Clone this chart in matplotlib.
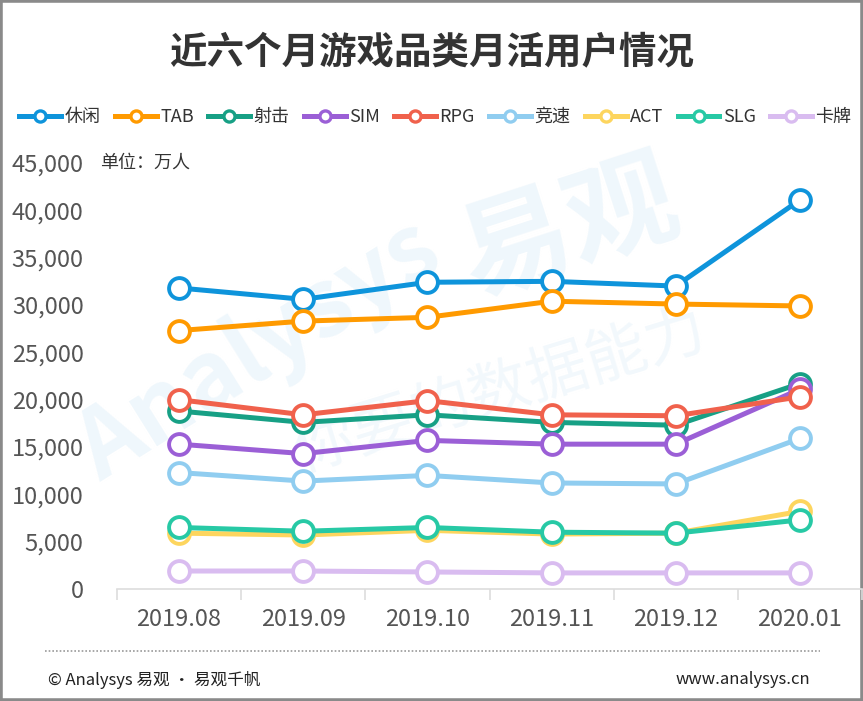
import matplotlib
matplotlib.use("Agg")
import matplotlib.pyplot as plt
from matplotlib.lines import Line2D
from matplotlib.patches import Rectangle
from matplotlib.ticker import FuncFormatter, FixedLocator

plt.rcParams["font.family"] = ["Noto Sans CJK SC", "DejaVu Sans"]

# ---------------------------------------------------------------------------
# Data (万人)
# ---------------------------------------------------------------------------
months = ["2019.08", "2019.09", "2019.10", "2019.11", "2019.12", "2020.01"]

casual  = [31800, 30600, 32400, 32500, 32000, 41100]   # 休闲
tab     = [27300, 28300, 28700, 30400, 30100, 29900]   # TAB
shooter = [18800, 17600, 18400, 17600, 17300, 21700]   # 射击
sim     = [15300, 14300, 15700, 15300, 15300, 21100]   # SIM
rpg     = [20000, 18400, 19900, 18400, 18300, 20300]   # RPG
racing  = [12300, 11400, 12000, 11200, 11100, 15900]   # 竞速
act     = [5900, 5700, 6200, 5800, 5900, 8200]         # ACT
slg     = [6500, 6100, 6500, 6000, 5900, 7300]         # SLG
card    = [1900, 1900, 1800, 1700, 1700, 1700]         # 卡牌

names  = ["休闲", "TAB", "射击", "SIM", "RPG", "竞速", "ACT", "SLG", "卡牌"]
series = [casual, tab, shooter, sim, rpg, racing, act, slg, card]
colors = ["#0e94db", "#ff9a00", "#17a085", "#9b5fd6", "#f0614c",
          "#90cdf0", "#fdd55e", "#27c9a5", "#d9bcf0"]

# ---------------------------------------------------------------------------
fig = plt.figure(figsize=(8.63, 7.01), dpi=100)
ax = fig.add_axes([117 / 863, 1 - 589 / 701, 745 / 863, (589 - 163) / 701])
ax.set_zorder(2)
ax.patch.set_alpha(0)

# faint watermark, kept below the plot
wm = "#eff7fc"
fig.text(0.66, 0.67, "易观", fontsize=80, fontweight="bold", color=wm,
         rotation=18, ha="center", va="center", zorder=0)
fig.text(0.30, 0.50, "Analysys", fontsize=68, fontweight="bold", color=wm,
         rotation=32, ha="center", va="center", zorder=0)
fig.text(0.58, 0.44, "你要的数据能力", fontsize=44, color="#f2f8fc",
         rotation=17, ha="center", va="center", zorder=0)

x = list(range(len(months)))
for name, vals, c in zip(names, series, colors):
    ax.plot(x, vals, color=c, lw=3.6, marker="o", ms=15,
            mfc="white", mec=c, mew=2.8, label=name, solid_capstyle="round")

ax.set_xlim(-0.5, len(months) - 0.5)
ax.set_ylim(0, 45000)

for s in ["left", "top", "right"]:
    ax.spines[s].set_visible(False)
ax.spines["bottom"].set_color("#dddddd")
ax.spines["bottom"].set_linewidth(1.2)

ax.set_xticks(x)
ax.set_xticklabels(months)
ax.xaxis.set_minor_locator(FixedLocator([i - 0.5 for i in range(len(months) + 1)]))
ax.tick_params(axis="x", which="major", length=0, pad=14,
               labelsize=17, labelcolor="#555555")
ax.tick_params(axis="x", which="minor", length=8, color="#dddddd", width=1.2)

ax.set_yticks(range(0, 45001, 5000))
ax.yaxis.set_major_formatter(FuncFormatter(lambda v, p: f"{int(v):,}"))
ax.tick_params(axis="y", length=0, pad=24, labelsize=17, labelcolor="#555555")

# title, unit, legend
fig.text(0.5, 1 - 52 / 701, "近六个月游戏品类月活用户情况", fontsize=27,
         fontweight="bold", color="#333333", ha="center", va="center")
fig.text(100 / 863, 1 - 163 / 701, "单位：万人", fontsize=13,
         color="#333333", ha="left", va="center", zorder=3)

handles = [Line2D([0], [0], color=c, lw=3.6, marker="o", ms=8, mfc="white",
                  mec=c, mew=2.4) for c in colors]
fig.legend(handles, names, loc="center",
           bbox_to_anchor=(435.5 / 863, 1 - 117 / 701),
           ncol=9, frameon=False, fontsize=13, handlelength=2.3,
           handletextpad=0.2, columnspacing=0.8, labelcolor="#333333",
           borderpad=0, borderaxespad=0)

# footer
fig.add_artist(Line2D([45 / 863, 820 / 863], [1 - 651 / 701, 1 - 651 / 701],
                      color="#9a9a9a", lw=1.2, ls=(0, (1, 1.2))))
fig.text(48 / 863, 1 - 680 / 701, "© Analysys 易观 · 易观千帆", fontsize=12,
         color="#222222", ha="left", va="center")
fig.text(810 / 863, 1 - 680 / 701, "www.analysys.cn", fontsize=12,
         color="#222222", ha="right", va="center")

# outer frame
fig.add_artist(Rectangle((0, 0), 1, 1, transform=fig.transFigure, fill=False,
                         edgecolor="#8a8a8a", lw=4))

fig.savefig("out.png", dpi=100)
